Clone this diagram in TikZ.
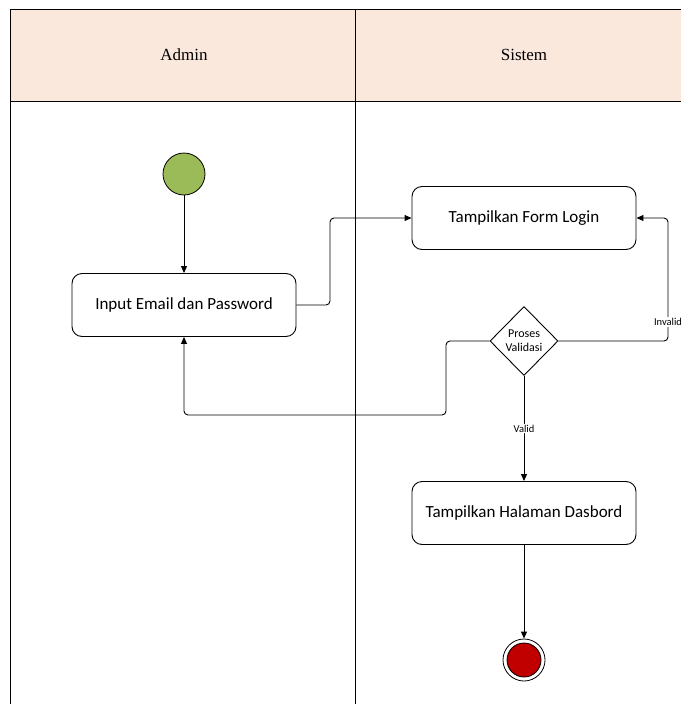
\documentclass[tikz,border=0pt]{standalone}
\usepackage{fontspec}
\setmainfont{Carlito}
\newfontfamily\hdrfont{Liberation Serif}
\usetikzlibrary{shapes.geometric,arrows.meta}
\definecolor{hdr}{HTML}{FAE8DC}
\definecolor{startg}{HTML}{9BBB59}
\definecolor{endr}{HTML}{C00000}
\tikzset{
  x=1pt,y=-1pt,
  act/.style={draw,rounded corners=10pt,minimum width=224pt,minimum height=63pt,font=\fontsize{17}{20}\selectfont,line width=0.9pt},
  flow/.style={draw,line width=0.9pt,-{Triangle[length=7pt,width=6pt]},rounded corners=4pt},
  lane/.style={draw,line width=0.8pt},
  lbl/.style={font=\fontsize{10.5}{12}\selectfont,fill=white,inner sep=1pt}
}
\begin{document}
\begin{tikzpicture}
\useasboundingbox (0,0) rectangle (681,704);
\fill[hdr] (10,9) rectangle (681,101);
\draw[lane] (10,704) -- (10,9) -- (681,9);
\draw[lane] (10,101) -- (681,101);
\draw[lane] (355,9) -- (355,704);
\node[font=\hdrfont\fontsize{17}{20}\selectfont] (hadmin) at (184,55) {Admin};
\node[font=\hdrfont\fontsize{17}{20}\selectfont] (hsistem) at (524,55) {Sistem};
\node[circle,draw,line width=0.8pt,fill=startg,minimum size=42pt,inner sep=0] (start) at (184,174) {};
\node[act] (input) at (184,305) {Input Email dan Password};
\node[act] (form) at (524,218) {Tampilkan Form Login};
\node[diamond,draw,line width=0.9pt,fill=white,minimum width=68pt,minimum height=69pt,inner sep=0,aspect=1,font=\fontsize{12}{14}\selectfont,align=center] (dec) at (524,341) {Proses\\Validasi};
\node[act] (dash) at (524,513) {Tampilkan Halaman Dasbord};
\node[circle,draw,line width=0.8pt,minimum size=42pt,inner sep=0] (endo) at (524,660) {};
\node[circle,draw,line width=0.8pt,fill=endr,minimum size=34pt,inner sep=0] (endi) at (524,660) {};
\coordinate (c1) at (330,305);
\coordinate (c2) at (330,218);
\coordinate (c3) at (668,341);
\coordinate (c4) at (668,218);
\coordinate (c5) at (446,341);
\coordinate (c6) at (446,415);
\coordinate (c7) at (184,415);
\draw[flow] (start) -- (input);
\draw[flow] (input.east) -- (c1) -- (c2) -- (form.west);
\draw[flow] (dec.east) -- (c3) -- (c4) -- (form.east);
\draw[flow] (dec.west) -- (c5) -- (c6) -- (c7) -- (input.south);
\draw[flow] (dec.south) -- node[lbl,pos=0.5] {Valid} (dash.north);
\draw[flow] (dash.south) -- (endo.north);
\node[lbl] (linv) at (668,322) {Invalid};
\end{tikzpicture}
\end{document}
